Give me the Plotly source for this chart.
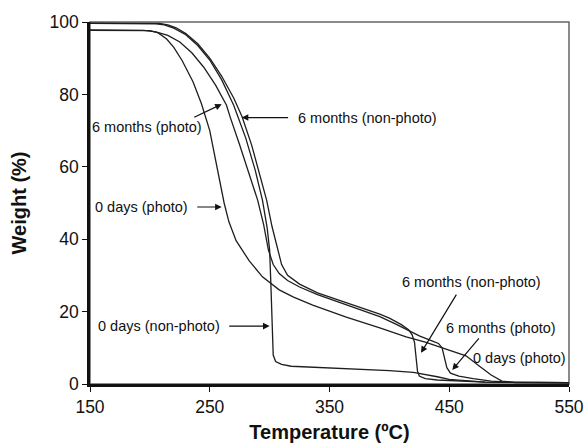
import plotly.graph_objects as go

# ---- data ----
t_0d_photo = [150, 200, 207, 214, 220, 227, 236, 243, 250, 254, 258, 262, 266, 272, 283, 294, 308, 320, 336, 364, 392, 414, 430, 441, 452, 464, 475, 485, 494, 505, 550]
w_0d_photo = [97.7, 97.6, 97.0, 95.3, 93.0, 89.3, 83.5, 77.5, 70.0, 63.5, 56.5, 50.0, 44.8, 39.6, 34.0, 29.6, 26.0, 24.0, 21.8, 18.5, 15.5, 13.0, 11.6, 10.4, 9.3, 7.8, 5.0, 2.5, 0.8, 0.4, 0.3]

t_0d_nonphoto = [150, 205, 212, 220, 230, 240, 250, 260, 270, 280, 288, 294, 298, 300, 301, 302, 303, 305, 310, 318, 340, 370, 400, 420, 432, 440, 450, 465, 480, 550]
w_0d_nonphoto = [99.6, 99.5, 99.2, 98.3, 96.5, 93.5, 89.5, 84.0, 77.0, 68.0, 59.0, 50.8, 43.0, 37.0, 28.0, 15.0, 8.0, 6.2, 5.4, 4.9, 4.6, 4.2, 3.7, 3.2, 2.6, 2.0, 1.3, 0.8, 0.5, 0.4]

t_6m_nonphoto = [150, 208, 215, 222, 230, 240, 250, 260, 270, 277, 285, 292, 297.5, 302, 306.7, 310, 315, 325, 340, 360, 380, 392, 400, 410, 416, 419, 421, 422.5, 423.5, 425, 430, 440, 460, 480, 550]
w_6m_nonphoto = [99.7, 99.6, 99.2, 98.4, 96.8, 94.0, 90.0, 85.0, 79.0, 73.8, 66.0, 57.5, 50.8, 43.5, 37.0, 33.0, 30.0, 27.6, 25.2, 23.0, 20.8, 19.3, 18.2, 16.4, 15.0, 13.6, 11.5, 7.0, 3.5, 2.2, 1.5, 1.1, 0.7, 0.5, 0.4]

t_6m_photo = [150, 195, 205, 215, 225, 235, 245, 255, 264, 267, 275, 283, 290, 295, 299, 303, 308, 315, 325, 340, 360, 380, 392, 405, 415, 425, 435, 441, 444, 446, 448, 451, 458, 470, 485, 500, 550]
w_6m_photo = [97.8, 97.7, 97.3, 96.3, 94.5, 91.5, 87.5, 82.5, 77.0, 73.8, 66.0, 58.0, 50.8, 44.0, 37.0, 33.0, 30.5, 28.6, 26.8, 24.7, 22.4, 20.1, 18.6, 16.6, 14.9, 13.3, 12.0, 11.2, 10.0, 7.0, 4.5, 3.0, 2.2, 1.5, 0.8, 0.5, 0.4]

x_ticks = [150, 250, 350, 450, 550]
y_ticks = [0, 20, 40, 60, 80, 100]

series = [
    ("0 days (photo)", t_0d_photo, w_0d_photo),
    ("0 days (non-photo)", t_0d_nonphoto, w_0d_nonphoto),
    ("6 months (non-photo)", t_6m_nonphoto, w_6m_nonphoto),
    ("6 months (photo)", t_6m_photo, w_6m_photo),
]

FONT = "Liberation Sans, Arial, sans-serif"
LINE = "#1e1e1e"

fig = go.Figure()
for name, t, w in series:
    fig.add_trace(go.Scatter(x=t, y=w, mode="lines", name=name,
                             line=dict(color=LINE, width=1.3), showlegend=False,
                             hoverinfo="skip"))

# text labels (no arrows)
labels = [
    ("6 months (photo)", 151.7, 71.0),
    ("6 months (non-photo)", 323.3, 73.6),
    ("0 days (photo)", 154.2, 48.9),
    ("0 days (non-photo)", 156.7, 16.0),
    ("6 months (non-photo)", 410.8, 28.2),
    ("6 months (photo)", 447.5, 15.5),
    ("0 days (photo)", 470.0, 7.2),
]
for txt, x, y in labels:
    fig.add_annotation(x=x, y=y, text=txt, showarrow=False, xanchor="left", yanchor="middle",
                       xshift=-2, font=dict(family=FONT, size=14.5, color="#111"))

# arrows: (tail_x, tail_y, tip_x, tip_y)
arrows = [
    (235.8, 73.5, 260.0, 77.3),
    (316.7, 73.6, 276.7, 73.6),
    (238.3, 48.9, 260.0, 48.9),
    (265.0, 16.0, 300.0, 16.0),
    (456.7, 25.1, 426.4, 8.6),
    (475.8, 13.0, 452.5, 3.9),
]
for tx, ty, hx, hy in arrows:
    fig.add_annotation(x=hx, y=hy, ax=tx, ay=ty, axref="x", ayref="y", xref="x", yref="y",
                       text="", showarrow=True, arrowhead=2, arrowsize=1.1, arrowwidth=1.2,
                       arrowcolor="#111", standoff=0, startstandoff=0)

# grey frame on top/right
fig.add_shape(type="rect", xref="paper", yref="paper", x0=0, y0=0, x1=1, y1=1,
              line=dict(color="#666", width=1.5), layer="below")

fig.update_layout(
    width=584, height=445,
    margin=dict(l=90, r=15, t=22, b=61),
    paper_bgcolor="white", plot_bgcolor="white",
    font=dict(family=FONT, color="#111"),
    xaxis=dict(range=[150, 550], tickvals=x_ticks, ticktext=[str(v) for v in x_ticks],
               showgrid=False, zeroline=False, showline=True, linecolor="#111", linewidth=2.5,
               ticks="outside", ticklen=5, tickwidth=1.3, tickcolor="#111", automargin=False,
               tickfont=dict(size=17.5, family=FONT, color="#111"),
               title=dict(text="<b>Temperature (ºC)</b>", font=dict(size=20, family=FONT, color="#111"),
                          standoff=10)),
    yaxis=dict(range=[0, 100], tickvals=y_ticks, ticktext=[str(v) for v in y_ticks],
               showgrid=False, zeroline=False, showline=True, linecolor="#111", linewidth=2.5,
               ticks="outside", ticklen=5, tickwidth=1.3, tickcolor="#111", automargin=False,
               tickfont=dict(size=17.5, family=FONT, color="#111"),
               title=dict(text="<b>Weight (%)</b>", font=dict(size=20, family=FONT, color="#111"),
                          standoff=18)),
)

fig.write_html("out.html")
